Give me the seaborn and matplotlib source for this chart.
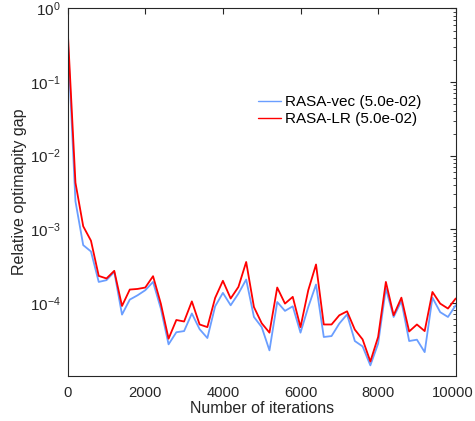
import numpy as np
import pandas as pd
import matplotlib
matplotlib.use("Agg")
import matplotlib.pyplot as plt
import matplotlib.transforms as mtransforms
import seaborn as sns
from matplotlib.ticker import LogLocator, NullFormatter

# ── Data ──
iterations = np.arange(0, 10001, 200)

rasa_vec = [4.0e-1, 2.4e-3, 6.1e-4, 5.0e-4, 1.93e-4, 2.04e-4, 2.64e-4, 6.95e-5, 1.11e-4, 1.27e-4,
            1.49e-4, 1.93e-4, 8.4e-5, 2.74e-5, 4.0e-5, 4.15e-5, 7.2e-5, 4.4e-5, 3.34e-5, 9.0e-5,
            1.37e-4, 9.3e-5, 1.34e-4, 2.08e-4, 6.45e-5, 4.7e-5, 2.27e-5, 1.03e-4, 7.8e-5, 9.0e-5,
            3.95e-5, 8.8e-5, 1.78e-4, 3.45e-5, 3.55e-5, 5.25e-5, 7.0e-5, 3.04e-5, 2.57e-5, 1.42e-5,
            2.8e-5, 1.57e-4, 6.45e-5, 1.06e-4, 3.04e-5, 3.17e-5, 2.15e-5, 1.18e-4, 7.5e-5, 6.45e-5,
            9.3e-5]

rasa_lr = [5.08e-1, 4.3e-3, 1.1e-3, 7.0e-4, 2.33e-4, 2.15e-4, 2.73e-4, 9.1e-5, 1.52e-4, 1.55e-4,
           1.62e-4, 2.31e-4, 9.8e-5, 3.27e-5, 5.87e-5, 5.6e-5, 1.05e-4, 5.1e-5, 4.7e-5, 1.17e-4,
           2.0e-4, 1.15e-4, 1.65e-4, 3.6e-4, 8.8e-5, 5.3e-5, 3.95e-5, 1.62e-4, 9.8e-5, 1.21e-4,
           4.7e-5, 1.49e-4, 3.33e-4, 5.1e-5, 5.1e-5, 6.8e-5, 7.7e-5, 4.34e-5, 3.2e-5, 1.6e-5,
           3.45e-5, 1.93e-4, 6.8e-5, 1.18e-4, 4.1e-5, 5.1e-5, 4.15e-5, 1.41e-4, 9.8e-5, 8.4e-5,
           1.15e-4]

labels = ["RASA-vec (5.0e-02)", "RASA-LR (5.0e-02)"]
colors = ["#6A9EFF", "#FF0000"]

df = pd.concat([
    pd.DataFrame({"iter": iterations, "gap": rasa_vec, "method": labels[0]}),
    pd.DataFrame({"iter": iterations, "gap": rasa_lr, "method": labels[1]}),
], ignore_index=True)

# ── Plot ──
sns.set_style("white")
plt.rcParams["font.family"] = ["Liberation Sans", "DejaVu Sans"]
plt.rcParams["font.size"] = 11
plt.rcParams["mathtext.fontset"] = "custom"
plt.rcParams["mathtext.rm"] = "Liberation Sans"
plt.rcParams["mathtext.it"] = "Liberation Sans"

fig = plt.figure(figsize=(4.75, 4.21), dpi=100)
ax = fig.add_axes([0.1425, 0.107, 0.8169, 0.873])

sns.lineplot(data=df, x="iter", y="gap", hue="method", palette=dict(zip(labels, colors)),
             linewidth=1.3, ax=ax, legend=True)

ax.set_yscale("log")
ax.set_xlim(0, 10000)
ax.set_ylim(1.02e-5, 1)
ax.set_xticks([0, 2000, 4000, 6000, 8000, 10000])
ax.yaxis.set_major_locator(LogLocator(base=10, numticks=10))
ax.yaxis.set_minor_locator(LogLocator(base=10, subs=np.arange(2, 10), numticks=20))
ax.yaxis.set_minor_formatter(NullFormatter())

dark = "#262626"
for s in ax.spines.values():
    s.set_color(dark)
    s.set_linewidth(0.8)
ax.tick_params(which="both", direction="in", top=True, right=True, colors=dark,
               labelcolor=dark, labelsize=11)
ax.tick_params(axis="x", labelsize=10.6)
ax.tick_params(which="major", length=4, width=0.8)
ax.tick_params(which="minor", length=2, width=0.6)
ax.tick_params(axis="x", pad=7)
ax.tick_params(axis="y", pad=5)
ax.set_xlabel("Number of iterations", fontsize=11.5, color=dark, labelpad=1)
ax.set_ylabel("Relative optimapity gap", fontsize=11.5, color=dark, labelpad=2)

# nudge the last x tick label left so it stays inside the canvas
last = ax.get_xticklabels()[-1]
last.set_transform(last.get_transform() + mtransforms.ScaledTranslation(-3 / 100, 0, fig.dpi_scale_trans))

leg = ax.legend(loc="upper left", bbox_to_anchor=(0.543, 0.774), bbox_transform=fig.transFigure,
                frameon=False, fontsize=11, handlelength=1.5, handletextpad=0.25,
                labelspacing=0.2, borderpad=0, borderaxespad=0)
for line in leg.get_lines():
    line.set_linewidth(1.0)
for t in leg.get_texts():
    t.set_color("black")

fig.savefig("out.png", dpi=100)
